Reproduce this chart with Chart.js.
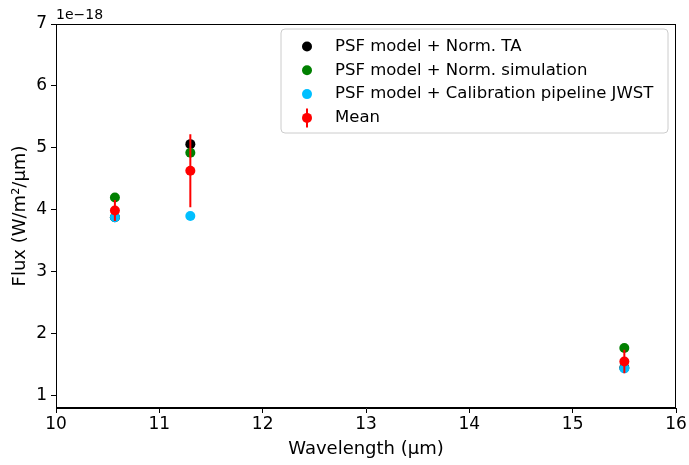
<!DOCTYPE html>
<html>
<head>
<meta charset="utf-8">
<script src="https://cdn.jsdelivr.net/npm/chart.js@4/dist/chart.umd.min.js"></script>
<style>
    body { margin: 0; background: #fff; }
    #wrap { width: 689px; height: 465px; position: relative; }
</style>
</head>
<body>
<div id="wrap"><canvas id="fluxChart"></canvas></div>
<script>
// Flux values in units of 1e-18 W/m2/um
const wavelengths = [10.57, 11.3, 15.5];
const fluxNormTA = [3.88, 5.06, 1.45];
const fluxNormSim = [4.20, 4.92, 1.77];
const fluxPipeline = [3.88, 3.90, 1.44];
const fluxMean = [3.99, 4.63, 1.55];
const fluxErr = [0.17, 0.59, 0.19];

const xTicks = [10, 11, 12, 13, 14, 15, 16];
const yTicks = [1, 2, 3, 4, 5, 6, 7];

const FONT = 'DejaVu Sans';

const toPoints = (ys) => wavelengths.map((x, i) => ({ x: x, y: ys[i] }));

// error bars: two ends per point, a null to break the line
const errPoints = [];
wavelengths.forEach((x, i) => {
    errPoints.push({ x: x, y: fluxMean[i] - fluxErr[i] });
    errPoints.push({ x: x, y: fluxMean[i] + fluxErr[i] });
    errPoints.push({ x: x, y: null });
});

/**
 * legend inside the plot, plus frame and offset text
 */
const extrasPlugin = {
    id: 'extras',
    afterDraw(chart) {
        const ctx = chart.ctx;
        const a = chart.chartArea;
        ctx.save();

        // frame (all four spines)
        ctx.strokeStyle = '#000';
        ctx.lineWidth = 1;
        ctx.strokeRect(a.left + 0.5, a.top + 0.5, a.right - a.left - 1, a.bottom - a.top - 1);

        // offset text
        ctx.fillStyle = '#000';
        ctx.font = '14px "' + FONT + '"';
        ctx.textBaseline = 'alphabetic';
        ctx.textAlign = 'left';
        ctx.fillText('1e\u221218', a.left, a.top - 5);

        // legend box
        const bx = 281, by = 29, bw = 387, bh = 104, r = 4;
        ctx.beginPath();
        ctx.moveTo(bx + r, by);
        ctx.arcTo(bx + bw, by, bx + bw, by + bh, r);
        ctx.arcTo(bx + bw, by + bh, bx, by + bh, r);
        ctx.arcTo(bx, by + bh, bx, by, r);
        ctx.arcTo(bx, by, bx + bw, by, r);
        ctx.closePath();
        ctx.fillStyle = 'rgba(255,255,255,0.8)';
        ctx.fill();
        ctx.strokeStyle = '#cccccc';
        ctx.stroke();

        const items = chart.data.datasets.filter(d => !d.isErrorBar);
        items.forEach((d, i) => {
            const cy = 46.5 + i * 23.8;
            const mx = 307;
            if (d.label === 'Mean') {
                ctx.strokeStyle = d.backgroundColor;
                ctx.lineWidth = 2;
                ctx.beginPath();
                ctx.moveTo(mx, cy - 9.5);
                ctx.lineTo(mx, cy + 9.5);
                ctx.stroke();
            }
            ctx.fillStyle = d.backgroundColor;
            ctx.beginPath();
            ctx.arc(mx, cy, 5, 0, Math.PI * 2);
            ctx.fill();

            ctx.fillStyle = '#000';
            ctx.font = '16.5px "' + FONT + '"';
            ctx.textBaseline = 'middle';
            ctx.fillText(d.label, 335, cy);
        });
        ctx.restore();
    }
};

const ctx = document.getElementById('fluxChart').getContext('2d');
const fluxChart = new Chart(ctx, {
    type: 'scatter',
    data: {
        datasets: [
            {
                label: 'PSF model + Norm. TA',
                data: toPoints(fluxNormTA),
                backgroundColor: '#000000',
                borderWidth: 0,
                pointRadius: 5,
                order: 4
            },
            {
                label: 'PSF model + Norm. simulation',
                data: toPoints(fluxNormSim),
                backgroundColor: '#008000',
                borderWidth: 0,
                pointRadius: 5,
                order: 3
            },
            {
                label: 'PSF model + Calibration pipeline JWST',
                data: toPoints(fluxPipeline),
                backgroundColor: '#00bfff',
                borderWidth: 0,
                pointRadius: 5,
                order: 2
            },
            {
                label: 'Mean',
                data: toPoints(fluxMean),
                backgroundColor: '#ff0000',
                borderWidth: 0,
                pointRadius: 5,
                order: 0
            },
            {
                label: 'Mean error',
                isErrorBar: true,
                type: 'line',
                data: errPoints,
                borderColor: '#ff0000',
                borderWidth: 2,
                pointRadius: 0,
                spanGaps: false,
                order: 1
            }
        ]
    },
    options: {
        responsive: true,
        maintainAspectRatio: false,
        animation: false,
        layout: { padding: { top: 24, right: 13, left: 0, bottom: 0 } },
        plugins: {
            legend: { display: false },
            tooltip: { enabled: false }
        },
        scales: {
            x: {
                type: 'linear',
                min: 10,
                max: 16,
                afterBuildTicks: s => { s.ticks = xTicks.map(v => ({ value: v })); },
                afterFit: s => { s.height = 57; },
                grid: { drawOnChartArea: false, drawTicks: true, tickLength: 5, color: '#000' },
                border: { display: true, color: '#000', width: 1 },
                ticks: { color: '#000', padding: 1, maxRotation: 0, font: { family: FONT, size: 17 } },
                title: {
                    display: true,
                    text: 'Wavelength (\u03bcm)',
                    color: '#000',
                    font: { family: FONT, size: 18 },
                    padding: { top: 0, bottom: 5 }
                }
            },
            y: {
                type: 'linear',
                min: 0.8,
                max: 7,
                afterBuildTicks: s => { s.ticks = yTicks.map(v => ({ value: v })); },
                afterFit: s => { s.width = 56; },
                grid: { drawOnChartArea: false, drawTicks: true, tickLength: 5, color: '#000' },
                border: { display: true, color: '#000', width: 1 },
                ticks: { color: '#000', padding: 4, font: { family: FONT, size: 17 } },
                title: {
                    display: true,
                    text: 'Flux (W/m\u00b2/\u03bcm)',
                    color: '#000',
                    font: { family: FONT, size: 18 },
                    padding: { top: 10, bottom: 0 }
                }
            }
        }
    },
    plugins: [extrasPlugin]
});
</script>
</body>
</html>
